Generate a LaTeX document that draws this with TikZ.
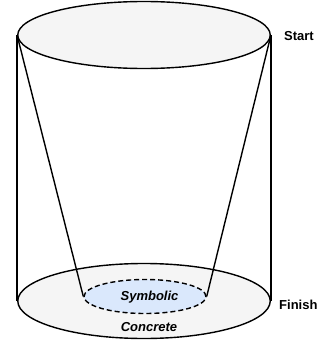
\documentclass[tikz,border=0pt]{standalone}
\usepackage{fontspec}
\setmainfont{Liberation Sans}
\usetikzlibrary{shapes.geometric}
\definecolor{discgray}{HTML}{F5F5F5}
\definecolor{coreblue}{HTML}{DAE8FC}
\tikzset{
  disc/.style={ellipse, draw=black, line width=1.4pt, fill=discgray, inner sep=0pt},
  core/.style={ellipse, draw=black, line width=1.4pt, dashed, dash pattern=on 5pt off 3pt, fill=coreblue, inner sep=0pt},
  edge/.style={line width=1.4pt, draw=black},
  stage/.style={font=\fontsize{13}{15}\selectfont\bfseries, anchor=west, inner sep=0pt},
  area/.style={font=\fontsize{13}{15}\selectfont\bfseries\itshape, inner sep=0pt}
}
\begin{document}
\begin{tikzpicture}[x=1pt, y=-1pt]
  \useasboundingbox (0,0) rectangle (331,345);
  % bottom disc and the inner symbolic region
  \node[disc, minimum width=252.5pt, minimum height=75pt] (bottom) at (144,301) {};
  \node[core, minimum width=122pt, minimum height=34pt] (inner) at (145,296.5) {};
  % top disc
  \node[disc, minimum width=252.5pt, minimum height=67pt] (top) at (144,35) {};
  % cylinder walls
  \draw[edge] (top.west) -- (bottom.west);
  \draw[edge] (top.east) -- (bottom.east);
  % narrowing cone
  \draw[edge] (top.west) -- (inner.west);
  \draw[edge] (top.east) -- (inner.east);
  % labels
  \node[area] (sym) at (149.5,297) {Symbolic};
  \node[area] (con) at (149,327) {Concrete};
  \node[stage] (start) at (284,36) {Start};
  \node[stage] (finish) at (279,305) {Finish};
\end{tikzpicture}
\end{document}
